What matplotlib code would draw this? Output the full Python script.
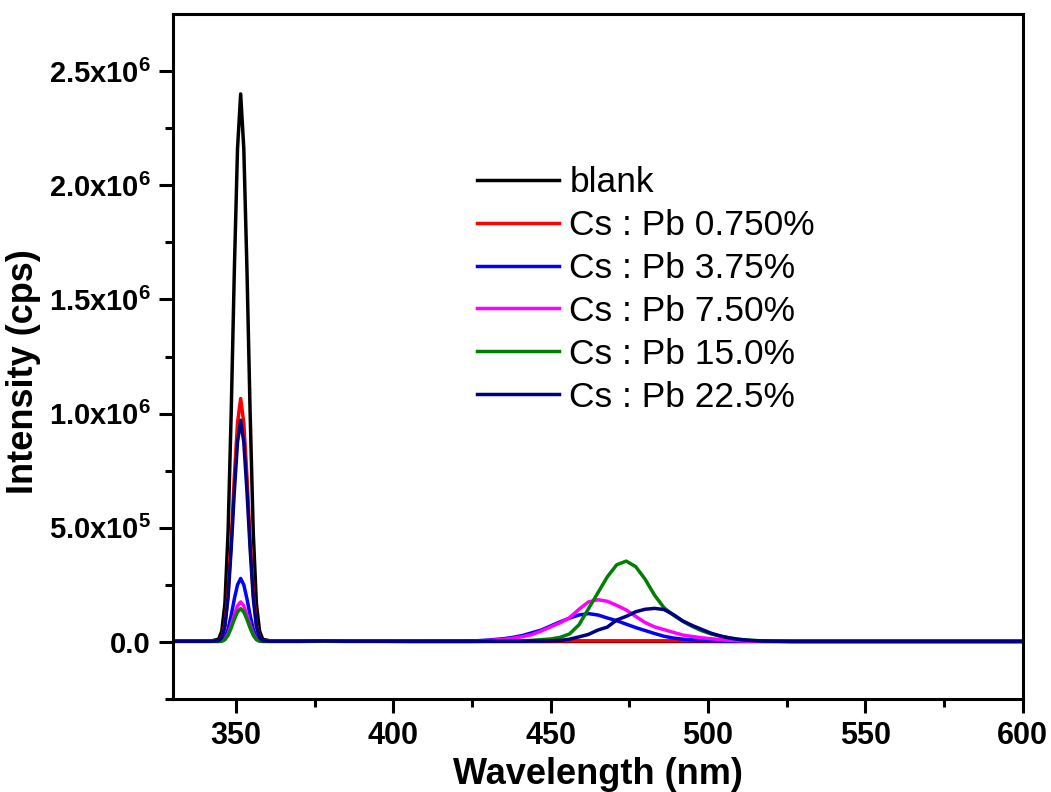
import matplotlib
matplotlib.use("Agg")
import matplotlib.pyplot as plt
import numpy as np

plt.rcParams['font.family'] = ['Liberation Sans', 'DejaVu Sans']
plt.rcParams['mathtext.fontset'] = 'custom'
plt.rcParams['mathtext.rm'] = 'Liberation Sans:bold'
plt.rcParams['mathtext.bf'] = 'Liberation Sans:bold'
plt.rcParams['mathtext.default'] = 'bf'

# wavelength grid (nm), shared by all spectra
wavelength = [330, 335, 340, 342,
              344.5, 345.5, 346.5, 347.5, 348.5, 349.5, 350.5, 351.5, 352.5, 353.5, 354.5, 355.5, 356.5, 357.5, 358.5,
              361, 365, 370, 378, 385, 395, 405, 415, 425, 430, 435, 438, 441, 444, 447, 450, 453, 456, 459, 462,
              465, 468, 471, 474, 477, 480, 483, 486, 489, 492, 495, 498, 501, 504, 507, 510, 514, 518, 522, 527,
              535, 545, 560, 580, 600]

# intensities in units of 10^3 cps
blank = [3, 3, 3, 4,
         12, 48, 168, 480, 1008, 1632, 2160, 2400, 2160, 1632, 1008, 480, 168, 48, 12,
         4, 3, 3, 5, 3, 3, 2, 2, 2, 2, 2, 2, 2, 2, 2, 2, 2, 2, 2, 2,
         2, 2, 2, 2, 2, 2, 2, 2, 2, 2, 2, 2, 2, 2, 2, 2, 2, 2, 2, 2,
         2, 2, 2, 2, 2]
cs_0750 = [3, 3, 3, 3,
           5, 21, 75, 213, 448, 725, 959, 1066, 959, 725, 448, 213, 75, 21, 5,
           4, 4, 4, 5, 4, 4, 4, 5, 5, 5, 5, 5, 5, 5, 5, 5, 5, 5, 5, 5,
           5, 5, 5, 5, 5, 5, 5, 5, 5, 5, 5, 5, 5, 5, 4, 4, 4, 3, 3, 3,
           3, 3, 3, 3, 3]
cs_375 = [3, 3, 3, 3,
          3, 6, 19, 56, 117, 189, 250, 278, 250, 189, 117, 56, 19, 6, 3,
          3, 3, 3, 4, 3, 3, 3, 3, 4, 8, 14, 20, 28, 40, 52, 70, 88, 104, 118, 124,
          118, 105, 93, 78, 63, 50, 37, 25, 17, 12, 9, 7, 5, 4, 3, 3, 3, 3, 3, 3,
          3, 3, 3, 3, 3]
cs_750 = [3, 3, 3, 3,
          3, 4, 12, 35, 74, 119, 158, 175, 158, 119, 74, 35, 12, 4, 3,
          3, 3, 3, 4, 3, 3, 3, 3, 3, 6, 11, 16, 23, 32, 48, 66, 84, 106, 143, 175,
          185, 178, 160, 140, 112, 85, 66, 54, 42, 30, 24, 18, 14, 10, 7, 5, 3, 2, 2, 2,
          2, 2, 2, 2, 2]
cs_150 = [2, 2, 2, 2,
          2, 3, 10, 29, 61, 99, 131, 146, 131, 99, 61, 29, 10, 3, 2,
          2, 2, 2, 3, 2, 2, 2, 2, 2, 3, 3, 4, 5, 7, 10, 13, 20, 35, 75, 145,
          215, 285, 338, 354, 330, 275, 205, 150, 117, 90, 68, 49, 35, 25, 17, 11, 7, 4, 3, 2,
          2, 2, 2, 2, 2]
cs_225 = [3, 3, 3, 3,
          5, 19, 68, 194, 408, 660, 874, 971, 874, 660, 408, 194, 68, 19, 5,
          3, 3, 3, 4, 3, 3, 3, 3, 3, 3, 3, 3, 3, 4, 4, 5, 7, 12, 22, 33,
          52, 65, 96, 112, 132, 143, 147, 142, 120, 92, 72, 55, 38, 26, 17, 11, 6, 4, 3, 2,
          2, 2, 2, 2, 2]

labels = ["blank", "Cs : Pb 0.750%", "Cs : Pb 3.75%", "Cs : Pb 7.50%", "Cs : Pb 15.0%", "Cs : Pb 22.5%"]
colors = ["black", "#ff0000", "#0000ff", "#ff00ff", "#008000", "#000080"]

xticks = [350, 400, 450, 500, 550, 600]
yticks = [0, 5e5, 1e6, 1.5e6, 2e6, 2.5e6]
ytick_labels = ["0.0", "5.0x10$^{5}$", "1.0x10$^{6}$", "1.5x10$^{6}$", "2.0x10$^{6}$", "2.5x10$^{6}$"]

fig = plt.figure(figsize=(10.51, 7.92), dpi=100)
ax = fig.add_axes([0.1646, 0.1174, 0.8085, 0.8649])

series = [blank, cs_0750, cs_375, cs_750, cs_150, cs_225]
x = np.array(wavelength)
for values, label, color in zip(series, labels, colors):
    ax.plot(x, np.array(values) * 1e3, color=color, lw=2.5, label=label)

ax.set_xlim(330, 600)
ax.set_ylim(-2.5e5, 2.75e6)
ax.set_xticks(xticks)
ax.set_xticks([375, 425, 475, 525, 575], minor=True)
ax.set_yticks(yticks)
ax.set_yticklabels(ytick_labels)
ax.set_yticks([-2.5e5, 2.5e5, 7.5e5, 1.25e6, 1.75e6, 2.25e6], minor=True)

for side in ax.spines:
    ax.spines[side].set_linewidth(2.2)
ax.tick_params(which='major', direction='out', length=10, width=2.2, labelsize=21, pad=6)
ax.tick_params(axis='x', labelsize=22)
ax.tick_params(which='minor', direction='out', length=6, width=2.2)
for lab in ax.get_xticklabels() + ax.get_yticklabels():
    lab.set_fontweight('bold')

ax.set_xlabel("Wavelength (nm)", fontsize=26, fontweight='bold', labelpad=4)
ax.set_ylabel("Intensity (cps)", fontsize=26, fontweight='bold')
ax.yaxis.set_label_coords(-0.155, 0.478)

leg = ax.legend(loc='upper left', bbox_to_anchor=(0.358, 0.778), frameon=False, fontsize=25.5,
                handlelength=2.3, handletextpad=0.3, labelspacing=0.28, borderpad=0, borderaxespad=0)
for line in leg.get_lines():
    line.set_linewidth(2.5)

fig.savefig("out.png", dpi=100)
